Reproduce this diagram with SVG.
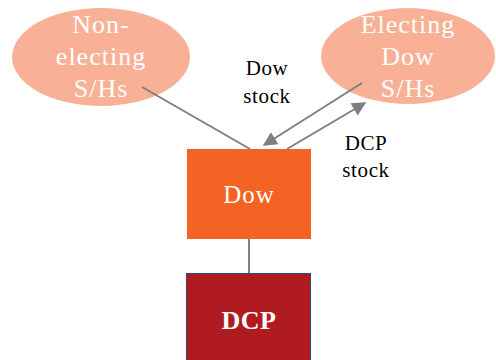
<svg xmlns="http://www.w3.org/2000/svg" width="496" height="360" viewBox="0 0 496 360">
<defs>
<marker id="ah" viewBox="0 0 10 10" refX="9" refY="5" markerWidth="8" markerHeight="7" markerUnits="strokeWidth" orient="auto">
<path d="M0,0 L10,5 L0,10 z" fill="#7f7f7f"/>
</marker>
</defs>
<style>
.ell{fill:#F8B196}
.et{font-family:"Liberation Serif",serif;font-size:26px;fill:#fff;text-anchor:middle;letter-spacing:1px}
.lbl{font-family:"Liberation Serif",serif;font-size:21px;fill:#000;text-anchor:middle;letter-spacing:0.6px}
.ln{stroke:#7f7f7f;stroke-width:2;fill:none}
</style>
<rect width="496" height="360" fill="#fff"/>
<g id="nonelecting">
<ellipse class="ell" cx="101" cy="57" rx="89" ry="49"/>
<text class="et" x="101" y="33">Non-</text>
<text class="et" x="101" y="65">electing</text>
<text class="et" x="101" y="97">S/Hs</text>
</g>
<g id="electing">
<ellipse class="ell" cx="408" cy="56" rx="87" ry="48"/>
<text class="et" x="408" y="33">Electing</text>
<text class="et" x="408" y="65">Dow</text>
<text class="et" x="408" y="97">S/Hs</text>
</g>
<g id="dow">
<rect x="187" y="149" width="124" height="90" fill="#F26324"/>
<text x="249" y="203" font-family="Liberation Serif, serif" font-size="25" letter-spacing="1" fill="#fff" text-anchor="middle">Dow</text>
</g>
<g id="dcp">
<rect x="186.5" y="273.5" width="124" height="90" fill="#B01B22" stroke="#2E4C73" stroke-width="1"/>
<text x="249" y="329" font-family="Liberation Serif, serif" font-size="26" font-weight="bold" letter-spacing="0.5" fill="#fff" text-anchor="middle">DCP</text>
</g>
<g id="connectors">
<line class="ln" x1="142" y1="87" x2="250" y2="149"/>
<line class="ln" x1="249" y1="239" x2="249" y2="273"/>
<line class="ln" x1="362" y1="83" x2="264" y2="145" marker-end="url(#ah)"/>
<line class="ln" x1="287" y1="149" x2="365" y2="103" marker-end="url(#ah)"/>
</g>
<g id="labels">
<text class="lbl" x="267" y="75">Dow</text>
<text class="lbl" x="267" y="103">stock</text>
<text class="lbl" x="366" y="150">DCP</text>
<text class="lbl" x="366" y="177">stock</text>
</g>
</svg>
